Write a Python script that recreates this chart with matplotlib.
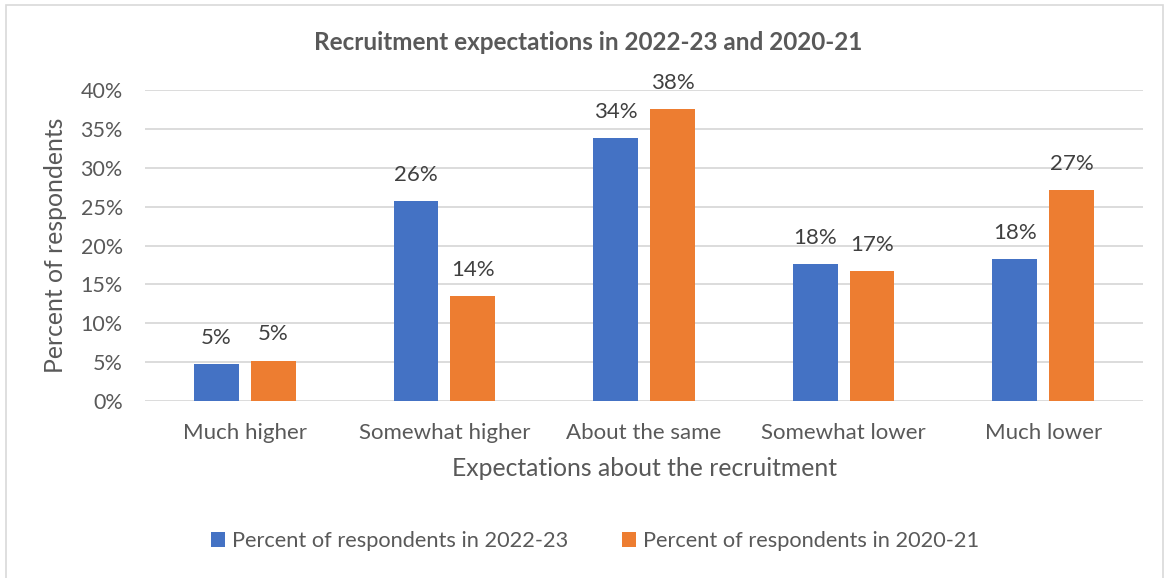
import numpy as np
import matplotlib.pyplot as plt
from matplotlib.patches import Rectangle
from matplotlib.ticker import MultipleLocator, FuncFormatter

plt.rcParams['font.family'] = ['Lato', 'DejaVu Sans']

categories = ['Much higher', 'Somewhat higher', 'About the same', 'Somewhat lower', 'Much lower']
pct_2022 = [4.7, 25.7, 33.8, 17.6, 18.2]
pct_2020 = [5.2, 13.5, 37.5, 16.7, 27.1]
series_names = ['Percent of respondents in 2022-23', 'Percent of respondents in 2020-21']

c_blue = '#4472C4'
c_orange = '#ED7D31'
c_text = '#595959'
c_grid = '#D9D9D9'

W, H = 1169, 578
fig = plt.figure(figsize=(W / 100, H / 100), dpi=100)
ax = fig.add_axes([145 / W, 1 - 401 / H, (1143 - 145) / W, (401 - 90) / H])

x = np.arange(len(categories))
bw = 0.225
off = bw / 2 + 0.03
b1 = ax.bar(x - off, pct_2022, bw, color=c_blue, label=series_names[0], zorder=3)
b2 = ax.bar(x + off, pct_2020, bw, color=c_orange, label=series_names[1], zorder=3)

# value labels above each bar
for bars, vals in ((b1, pct_2022), (b2, pct_2020)):
    for r, v in zip(bars, vals):
        ax.annotate('{:.0f}%'.format(v), (r.get_x() + r.get_width() / 2, v),
                    xytext=(0, 19), textcoords='offset points',
                    ha='center', va='center', fontsize=16, color='#404040')

ax.set_xlim(-0.5, len(categories) - 0.5)
ax.set_ylim(0, 40)
ax.yaxis.set_major_locator(MultipleLocator(5))
ax.yaxis.set_major_formatter(FuncFormatter(lambda v, p: '{:.0f}%'.format(v)))
ax.set_xticks(x)
ax.set_xticklabels(categories)
ax.tick_params(axis='both', length=0, labelsize=15.5, labelcolor=c_text)
ax.tick_params(axis='x', labelsize=16, pad=16)
ax.tick_params(axis='y', pad=16)
ax.grid(axis='y', color=c_grid, linewidth=1.3, zorder=0)
for s in ax.spines.values():
    s.set_visible(False)

ax.set_xlabel('Expectations about the recruitment', fontsize=17.8, color=c_text, labelpad=10)
ax.set_ylabel('Percent of respondents', fontsize=17.8, color=c_text, labelpad=10)
fig.text(0.5 * (315 + 862) / W, 1 - 43 / H, 'Recruitment expectations in 2022-23 and 2020-21',
         ha='center', va='center', fontsize=17.5, fontweight='bold', color=c_text)

fig.legend(handles=[b1, b2], loc='center', bbox_to_anchor=(0.5 * (210 + 980) / W, 1 - 541 / H),
           ncol=2, frameon=False, fontsize=15.7, labelcolor=c_text,
           handlelength=0.65, handleheight=0.65, handletextpad=0.3, columnspacing=2.5)

fig.patches.append(Rectangle((6 / W, -0.02), (1163 - 6) / W, 1.02 - 5 / H,
                             transform=fig.transFigure, fill=False,
                             edgecolor='#D9D9D9', linewidth=1.2))

fig.savefig('out.png', dpi=100, facecolor='white')
